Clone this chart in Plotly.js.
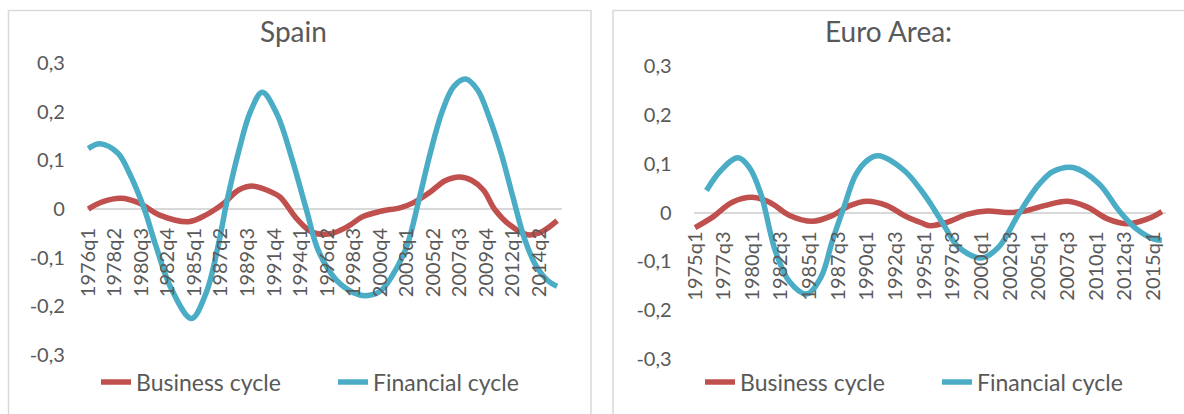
<!DOCTYPE html>
<html><head><meta charset="utf-8">
<script src="https://cdn.plot.ly/plotly-3.0.1.min.js"></script>
<style>html,body{margin:0;padding:0;background:#fff;}#chart{width:1184px;height:414px;}</style>
</head><body><div id="chart"></div>
<script>
// ---------- DATA ----------
const seriesNames = ['Business cycle', 'Financial cycle'];
const panelTitles = ['Spain', 'Euro Area:'];
const yTickValues = [-0.3, -0.2, -0.1, 0, 0.1, 0.2, 0.3];
const yTickLabels = ['-0,3', '-0,2', '-0,1', '0', '0,1', '0,2', '0,3'];

const spainTickLabels = ['1976q1','1978q2','1980q3','1982q4','1985q1','1987q2','1989q3','1991q4','1994q1',
  '1996q2','1998q3','2000q4','2003q1','2005q2','2007q3','2009q4','2012q1','2014q2'];
const euroTickLabels = ['1975q1','1977q3','1980q1','1982q3','1985q1','1987q3','1990q1','1992q3','1995q1',
  '1997q3','2000q1','2002q3','2005q1','2007q3','2010q1','2012q3','2015q1'];

const spainBusinessQ = ['1976q1','1977q2','1978q4','1980q2','1982q1','1984q3','1986q1','1987q3','1988q4','1990q1',
  '1991q3','1992q2','1993q4','1995q1','1996q3','1998q1','1999q2','2000q4','2002q3','2003q3','2005q1','2006q2',
  '2007q3','2008q3','2009q3','2010q3','2011q4','2013q2','2014q3','2015q4'];
const spainBusiness = [0.000, 0.015, 0.022, 0.013, -0.012, -0.026, -0.012, 0.012, 0.039, 0.047,
  0.035, 0.025, -0.022, -0.048, -0.051, -0.036, -0.016, -0.005, 0.003, 0.012, 0.035, 0.058,
  0.066, 0.059, 0.039, -0.002, -0.033, -0.053, -0.046, -0.024];

const spainFinancialQ = ['1976q1','1977q1','1978q3','1979q3','1980q4','1981q4','1983q1','1984q4','1986q1','1987q1',
  '1987q4','1988q4','1989q4','1990q4','1992q1','1993q2','1994q3','1995q3','1997q1','1998q3','1999q3','2000q4',
  '2001q4','2003q1','2004q1','2005q1','2006q1','2007q1','2008q1','2009q1','2010q1','2011q1','2012q1',
  '2013q1','2014q1','2015q1','2015q4'];
const spainFinancial = [0.124, 0.134, 0.115, 0.073, 0.000, -0.077, -0.162, -0.225, -0.172, -0.077,
  0.015, 0.118, 0.200, 0.240, 0.195, 0.105, -0.002, -0.085, -0.145, -0.172, -0.178, -0.169,
  -0.138, -0.077, 0.015, 0.115, 0.200, 0.252, 0.267, 0.245, 0.188, 0.115, 0.025,
  -0.062, -0.118, -0.148, -0.159];

const euroBusinessQ = ['1975q1','1976q3','1978q2','1980q1','1981q3','1983q2','1985q2','1987q1','1988q3','1990q1',
  '1991q4','1993q2','1994q4','1995q3','1997q1','1998q4','2000q3','2002q2','2003q4','2005q3','2007q3','2009q2',
  '2011q1','2012q4','2014q3','2015q4'];
const euroBusiness = [-0.031, -0.010, 0.021, 0.031, 0.021, -0.006, -0.018, -0.006, 0.014, 0.023,
  0.014, -0.006, -0.021, -0.027, -0.020, -0.004, 0.003, 0.000, 0.003, 0.014, 0.023, 0.011,
  -0.013, -0.023, -0.013, 0.002];

const euroFinancialQ = ['1976q1','1977q2','1978q4','1979q4','1980q4','1982q1','1983q2','1984q4','1986q1',
  '1987q1','1988q1','1989q1','1990q1','1991q1','1993q2','1994q4','1995q4','1996q4','1998q1','2000q1','2001q3',
  '2003q2','2005q1','2006q2','2008q1','2010q2','2012q1','2013q3','2015q1','2015q4'];
const euroFinancial = [0.045, 0.086, 0.112, 0.092, 0.038, -0.078, -0.142, -0.167, -0.132,
  -0.057, 0.011, 0.076, 0.106, 0.116, 0.086, 0.045, 0.011, -0.027, -0.071, -0.093, -0.071,
  -0.003, 0.057, 0.084, 0.092, 0.059, 0.004, -0.033, -0.054, -0.057];

// ---------- HELPERS ----------
const W = 1184, H = 414;
const px = v => v / W;          // horizontal pixel -> paper
const py = v => 1 - v / H;      // vertical pixel -> paper
const qnum = s => { const m = /^(\d{4})q(\d)$/.exec(s); return (+m[1]) * 4 + (+m[2]) - 1; };

const RED = '#C0504D', BLUE = '#4BACC6', TXT = '#595959', GRID = '#D9D9D9';
const FONT = 'Lato, "Open Sans", sans-serif';
const LW = 5.5;

function line(xq, y, name, color, xa, ya, leg) {
  return {
    type: 'scatter', mode: 'lines', name: name,
    x: xq.map(qnum), y: y, xaxis: xa, yaxis: ya,
    line: {color: color, width: LW, shape: 'spline', smoothing: 1},
    legend: leg, showlegend: true, hoverinfo: 'skip'
  };
}

const traces = [
  line(spainBusinessQ, spainBusiness, seriesNames[0], RED, 'x', 'y', 'legend'),
  line(spainFinancialQ, spainFinancial, seriesNames[1], BLUE, 'x', 'y', 'legend'),
  line(euroBusinessQ, euroBusiness, seriesNames[0], RED, 'x2', 'y2', 'legend2'),
  line(euroFinancialQ, euroFinancial, seriesNames[1], BLUE, 'x2', 'y2', 'legend2')
];

function xAxis(labels, first, span, d0, d1, zeroPx) {
  return {
    domain: [px(d0), px(d1)], anchor: 'free', position: py(zeroPx),
    range: [qnum(first) - 0.5, qnum(first) + span], showgrid: false, zeroline: false, showline: false,
    tickmode: 'array', tickvals: labels.map(qnum), ticktext: labels, tickangle: -90,
    ticks: 'outside', ticklen: 10, tickcolor: 'rgba(0,0,0,0)',
    tickfont: {family: FONT, size: 20, color: TXT}, fixedrange: true
  };
}
function yAxis(topPx, botPx, xa) {
  return {
    domain: [py(botPx), py(topPx)], anchor: xa, range: [-0.3, 0.3],
    showgrid: false, zeroline: true, zerolinecolor: GRID, zerolinewidth: 2, showline: false,
    tickmode: 'array', tickvals: yTickValues, ticktext: yTickLabels,
    ticks: 'outside', ticklen: 17, tickcolor: 'rgba(0,0,0,0)',
    tickfont: {family: FONT, size: 20, color: TXT}, fixedrange: true
  };
}

const legendBase = {
  orientation: 'h', yanchor: 'middle', xanchor: 'left', y: py(382),
  font: {family: FONT, size: 23, color: TXT}, bgcolor: 'rgba(0,0,0,0)',
  entrywidth: 192, entrywidthmode: 'pixels', itemwidth: 30, traceorder: 'normal'
};

const layout = {
  width: W, height: H, margin: {l: 0, r: 0, t: 0, b: 0, autoexpand: false},
  paper_bgcolor: '#fff', plot_bgcolor: 'rgba(0,0,0,0)',
  font: {family: FONT, color: TXT},
  xaxis: xAxis(spainTickLabels, '1976q1', 160.5, 86.8, 561.5, 209),
  yaxis: yAxis(63, 355, 'x'),
  xaxis2: xAxis(euroTickLabels, '1975q1', 164.5, 693.6, 1166.2, 212.5),
  yaxis2: yAxis(66, 359, 'x2'),
  legend: Object.assign({}, legendBase, {x: px(96)}),
  legend2: Object.assign({}, legendBase, {x: px(700)}),
  annotations: [
    {text: panelTitles[0], xref: 'paper', yref: 'paper', x: px(293), y: py(31), xanchor: 'center', yanchor: 'middle',
     showarrow: false, font: {family: FONT, size: 28, color: TXT}},
    {text: panelTitles[1], xref: 'paper', yref: 'paper', x: px(888), y: py(31), xanchor: 'center', yanchor: 'middle',
     showarrow: false, font: {family: FONT, size: 28, color: TXT}}
  ],
  shapes: [
    {type: 'rect', xref: 'paper', yref: 'paper', x0: px(8.5), x1: px(591), y0: py(430), y1: py(10.5),
     line: {color: GRID, width: 1.5}, fillcolor: 'rgba(0,0,0,0)', layer: 'below'},
    {type: 'rect', xref: 'paper', yref: 'paper', x0: px(613), x1: px(1200), y0: py(430), y1: py(10.5),
     line: {color: GRID, width: 1.5}, fillcolor: 'rgba(0,0,0,0)', layer: 'below'}
  ],
  hovermode: false
};

Plotly.newPlot('chart', traces, layout, {displayModeBar: false, staticPlot: true});
</script>
</body></html>
